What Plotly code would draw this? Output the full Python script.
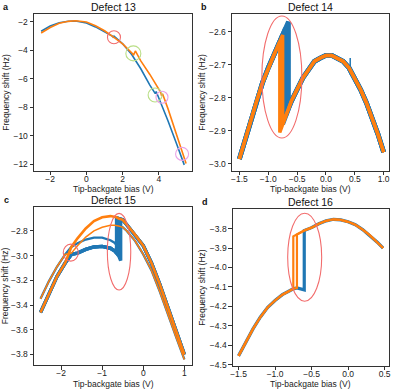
import plotly.graph_objects as go
from plotly.subplots import make_subplots

BLUE = '#1f77b4'
ORANGE = '#ff7f0e'
RED = '#f26d6d'
GREEN = '#b9de86'
PINK = '#e9a3e6'
FONT = 'Liberation Sans, Arial, sans-serif'

# ---- panel a: Defect 13 ----
a_blue_x = [-2.5, -2.0, -1.5, -1.0, -0.6, 0.0, 0.5, 1.0, 1.45, 1.5, 1.5, 1.6, 2.0, 2.5, 3.0, 3.5, 3.8, 3.85, 4.0, 4.5, 5.0, 5.4]
a_blue_y = [-2.67, -2.30, -2.07, -1.96, -1.95, -2.08, -2.36, -2.70, -3.02, -3.12, -2.98, -3.10, -3.55, -4.30, -5.30, -6.45, -7.05, -6.90, -7.35, -8.95, -10.65, -12.05]
a_orange_x = [-2.5, -2.0, -1.5, -1.0, -0.6, 0.0, 0.5, 1.0, 1.5, 2.0, 2.55, 2.6, 2.7, 3.0, 3.5, 4.1, 4.15, 4.2, 4.5, 4.9, 5.2, 5.5]
a_orange_y = [-2.79, -2.40, -2.11, -1.97, -1.93, -2.02, -2.28, -2.63, -3.08, -3.55, -4.25, -4.35, -4.05, -4.75, -5.70, -6.95, -7.20, -7.05, -8.10, -9.60, -10.75, -11.95]
a_mark_x = [1.52, 2.59, 3.79, 4.17, 5.28]
a_mark_y = [-3.09, -4.22, -7.14, -7.30, -11.28]
a_mark_r = [6.5, 7.5, 7, 6, 6.5]
a_mark_c = [RED, GREEN, GREEN, PINK, PINK]

# ---- panel b: Defect 14 ----
b_x = [-1.5, -1.4, -1.3, -1.2, -1.1, -1.0, -0.9, -0.85, -0.8, -0.75, -0.7, -0.65, -0.6,
       -0.5, -0.4, -0.3, -0.2, -0.1, 0.0, 0.1, 0.2, 0.3, 0.4, 0.5, 0.6, 0.7, 0.8, 0.9, 1.0]
b_left = [-2.985, -2.925, -2.865, -2.81, -2.755, -2.71, -2.67, -2.65, -2.63, -2.61, -2.59, -2.57] + [None] * 17
b_right = [None] * 7 + [-2.935, -2.905, -2.88, -2.855, -2.83, -2.81, -2.775, -2.74, -2.715, -2.69, -2.68,
                        -2.672, -2.672, -2.68, -2.69, -2.71, -2.74, -2.775, -2.815, -2.86, -2.91, -2.965]
b_blue_jumps = [9, 10, 11]
b_orange_jumps = [8, 9]
b_spike_x = [0.42, 0.42]
b_spike_y = [-2.68, -2.73]

# ---- panel c: Defect 15 ----
c_left_x = [-2.5, -2.3, -2.1, -1.9]
c_left_a = [-3.46, -3.31, -3.17, -3.06]
c_left_b = [-3.35, -3.21, -3.09, -2.99]
c_arc_x = [-1.75, -1.6, -1.4, -1.2, -1.0, -0.8, -0.7, -0.65, -0.6, -0.55, -0.5, -0.4, -0.2, 0.0, 0.2, 0.4, 0.6, 0.8, 1.0]
c_upper_a = [-2.93, -2.86, -2.78, -2.72, -2.69, -2.68, -2.685, -2.69, -2.70, -2.705, -2.71, -2.75, -2.83, -2.92, -3.06, -3.23, -3.42, -3.61, -3.80]
c_lower_a = [-2.99, -2.98, -2.95, -2.93, -2.925, -2.94, -2.96, -2.98, -3.00, -3.04] + [None] * 9
c_upper_b = [-2.98, -2.92, -2.85, -2.80, -2.77, -2.755, -2.755, -2.755, -2.76, -2.765, -2.77, -2.80, -2.88, -2.99, -3.12, -3.29, -3.48, -3.66, -3.84]
c_lower_b = [-2.93, -2.90, -2.87, -2.855, -2.855, -2.875, -2.895, -2.915, -2.935, -2.96] + [None] * 9
c_jumps_a = [7, 8, 9]
c_jumps_b = [8]

# ---- panel d: Defect 16 ----
d_x = [-1.5, -1.4, -1.3, -1.2, -1.1, -1.0, -0.9, -0.8, -0.75, -0.7, -0.65, -0.6,
       -0.5, -0.4, -0.3, -0.2, -0.1, 0.0, 0.1, 0.2, 0.3, 0.4, 0.48]
d_lower = [-4.455, -4.385, -4.315, -4.255, -4.205, -4.17, -4.14, -4.12, -4.11, -4.105, -4.11, -4.115] + [None] * 11
d_upper = [None] * 8 + [-3.84, -3.83, -3.82, -3.81, -3.795, -3.775, -3.76, -3.752, -3.755, -3.765,
                        -3.78, -3.805, -3.835, -3.87, -3.90]
d_blue_jumps = [11]
d_orange_jumps = [8, 9]

# ellipses around the switching events (centre in data, half sizes in px)
ell_panel = [2, 3, 3, 4]
ell_x = [-0.764, -1.764, -0.589, -0.594]
ell_y = [-2.737, -2.976, -2.968, -3.947]
ell_rx = [20, 7.5, 11.7, 17]
ell_ry = [61, 8.5, 38.3, 44]


def sweep(x, lo, hi, k):
    # follow the low branch up to index k, then jump onto the high branch
    return x[:k + 1] + x[k:], lo[:k + 1] + hi[k:]


fig = make_subplots(rows=2, cols=2)

# a
fig.add_trace(go.Scatter(x=a_blue_x, y=a_blue_y, mode='lines', line=dict(color=BLUE, width=1.6)), 1, 1)
fig.add_trace(go.Scatter(x=a_orange_x, y=a_orange_y, mode='lines', line=dict(color=ORANGE, width=1.6)), 1, 1)

# b
for k in b_blue_jumps:
    xs, ys = sweep(b_x, b_left, b_right, k)
    fig.add_trace(go.Scatter(x=xs, y=ys, mode='lines', line=dict(color=BLUE, width=4.8)), 1, 2)
fig.add_trace(go.Scatter(x=b_spike_x, y=b_spike_y, mode='lines', line=dict(color=BLUE, width=1.5)), 1, 2)
for k in b_orange_jumps:
    xs, ys = sweep(b_x, b_left, b_right, k)
    fig.add_trace(go.Scatter(x=xs, y=ys, mode='lines', line=dict(color=ORANGE, width=3.4)), 1, 2)

# c: blue sweeps first, orange on top
c_families = [(c_left_a, c_upper_a, c_lower_a, c_jumps_a, 2.6),
              (c_left_b, c_upper_b, c_lower_b, c_jumps_b, 1.5)]
for left, upper, lower, jumps, w in c_families:
    for k in jumps:
        xs, ys = sweep(c_arc_x, lower, upper, k)
        fig.add_trace(go.Scatter(x=c_left_x + xs, y=left + ys, mode='lines',
                                 line=dict(color=BLUE, width=w + 0.8)), 2, 1)
for left, upper, lower, jumps, w in c_families:
    fig.add_trace(go.Scatter(x=c_left_x + c_arc_x, y=left + upper, mode='lines',
                             line=dict(color=ORANGE, width=w)), 2, 1)

# d
for k in d_blue_jumps:
    xs, ys = sweep(d_x, d_lower, d_upper, k)
    fig.add_trace(go.Scatter(x=xs, y=ys, mode='lines', line=dict(color=BLUE, width=3.2)), 2, 2)
for k in d_orange_jumps:
    xs, ys = sweep(d_x, d_lower, d_upper, k)
    fig.add_trace(go.Scatter(x=xs, y=ys, mode='lines', line=dict(color=ORANGE, width=2.2)), 2, 2)

# marker circles
for cx, cy, r, c in zip(a_mark_x, a_mark_y, a_mark_r, a_mark_c):
    fig.add_shape(type='circle', xref='x', yref='y', xsizemode='pixel', ysizemode='pixel',
                  xanchor=cx, yanchor=cy, x0=-r, x1=r, y0=-r, y1=r, line=dict(color=c, width=1.1))
for p, cx, cy, rx, ry in zip(ell_panel, ell_x, ell_y, ell_rx, ell_ry):
    fig.add_shape(type='circle', xref=f'x{p}', yref=f'y{p}', xsizemode='pixel', ysizemode='pixel',
                  xanchor=cx, yanchor=cy, x0=-rx, x1=rx, y0=-ry, y1=ry, line=dict(color=RED, width=1.1))

axis_style = dict(showline=True, mirror=True, linecolor='#333', linewidth=1, ticks='outside',
                  ticklen=3.5, tickwidth=1, tickcolor='#333', showgrid=False, zeroline=False,
                  automargin=False, tickfont=dict(size=8.5, color='#222'))
title_font = dict(size=8.5, color='#222')

panels = [
    # xdomain, ydomain, xrange, yrange, xticks, yticks, xfmt, yfmt, title
    ([0.086, 0.485], [0.563, 0.964], [-2.89, 5.83], [-12.47, -1.46], [-2, 0, 2, 4], [-2, -4, -6, -8, -10, -12], '', '', 'Defect 13'),
    ([0.586, 0.982], [0.563, 0.964], [-1.627, 1.09], [-3.021, -2.547], [-1.5, -1.0, -0.5, 0.0, 0.5, 1.0], [-2.6, -2.7, -2.8, -2.9, -3.0], '.1f', '.1f', 'Defect 14'),
    ([0.086, 0.485], [0.066, 0.471], [-2.657, 1.187], [-3.887, -2.605], [-2, -1, 0, 1], [-2.8, -3.0, -3.2, -3.4, -3.6, -3.8], '', '.1f', 'Defect 15'),
    ([0.588, 0.982], [0.064, 0.465], [-1.578, 0.559], [-4.507, -3.70], [-1.5, -1.0, -0.5, 0.0, 0.5], [-3.8, -3.9, -4.0, -4.1, -4.2, -4.3, -4.4, -4.5], '.1f', '.1f', 'Defect 16'),
]
letters = ['a', 'b', 'c', 'd']

for i, (xd, yd, xr, yr, xt, yt, xf, yf, ttl) in enumerate(panels):
    n = '' if i == 0 else str(i + 1)
    fig.layout['xaxis' + n].update(domain=xd, range=xr, tickvals=xt, tickformat=xf,
                                   ticklabelstandoff=-4, **axis_style)
    fig.layout['yaxis' + n].update(domain=yd, range=yr, tickvals=yt, tickformat=yf,
                                   title=dict(text='Frequency shift (Hz)', font=title_font, standoff=2),
                                   **axis_style)
    # x-axis title, placed by hand so it sits close under the tick labels
    fig.add_annotation(x=(xd[0] + xd[1]) / 2, y=yd[0], xref='paper', yref='paper',
                       text='Tip-backgate bias (V)', showarrow=False, xanchor='center',
                       yanchor='middle', yshift=-18.5, font=title_font)
    fig.add_annotation(x=(xd[0] + xd[1]) / 2, y=yd[1], xref='paper', yref='paper', text=ttl,
                       showarrow=False, xanchor='center', yanchor='middle', yshift=7,
                       font=dict(size=10.5, color='#111'))
    fig.add_annotation(x=xd[0] - 28 / 396, y=yd[1] + 7 / 391, xref='paper', yref='paper',
                       text='<b>' + letters[i] + '</b>', showarrow=False,
                       xanchor='center', yanchor='middle', font=dict(size=9, color='#111'))

fig.update_layout(width=396, height=391, margin=dict(l=0, r=0, t=0, b=0),
                  paper_bgcolor='white', plot_bgcolor='white', showlegend=False,
                  font=dict(family=FONT, color='#222'))

# the page body has a default 8px margin; drop it so the figure sits at the window corner
fig.write_html("out.html", config={'displayModeBar': False},
               post_script="document.body.style.margin='0';")
